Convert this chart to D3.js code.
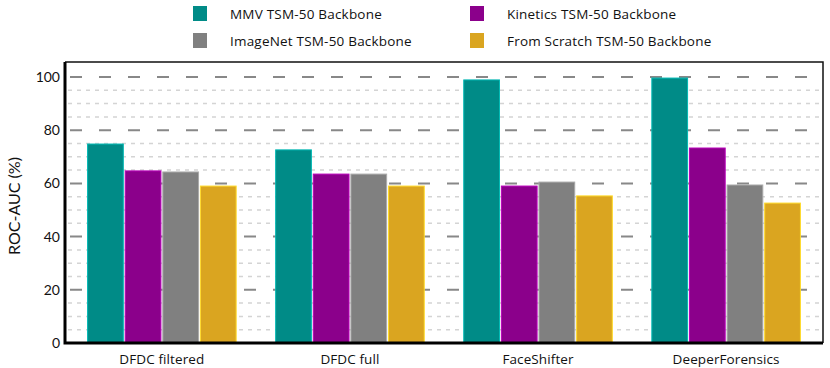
<!DOCTYPE html>
<html>
<head>
<meta charset="utf-8">
<script src="https://cdn.jsdelivr.net/npm/d3@7"></script>
<style>
  body { margin: 0; background: #fff; }
  text { font-family: Lato, "Open Sans", sans-serif; fill: #111; }
  .wide { font-family: "Open Sans", Lato, sans-serif; }
</style>
</head>
<body>
<div id="chart"></div>
<script>
let categories = ['DFDC filtered', 'DFDC full', 'FaceShifter', 'DeeperForensics'];
let series_names = ['MMV TSM-50 Backbone', 'Kinetics TSM-50 Backbone', 'ImageNet TSM-50 Backbone', 'From Scratch TSM-50 Backbone'];
let mmv      = [74.8, 72.6, 98.9, 99.6];
let kinetics = [64.7, 63.5, 59.0, 73.3];
let imagenet = [64.3, 63.5, 60.5, 59.4];
let scratch  = [59.0, 59.0, 55.3, 52.6];
let y_ticks  = [0, 20, 40, 60, 80, 100];
let minor_ticks = [5, 10, 15, 25, 30, 35, 45, 50, 55, 65, 70, 75, 85, 90, 95];
let colors   = ['#008b87', '#8b008b', '#808080', '#daa520'];

let series = [mmv, kinetics, imagenet, scratch];

let chart_width = 830;
let chart_height = 368;
let m = { left: 65, right: 823, top: 62, bottom: 343 };

let svg = d3.select('#chart')
    .append('svg')
    .attr('width', chart_width)
    .attr('height', chart_height);

let x_scale = d3.scaleBand()
    .domain(categories)
    .range([m.left, m.right])
    .paddingInner(0.21)
    .paddingOuter(0.12);

let x_inner = d3.scaleBand()
    .domain(d3.range(series.length))
    .range([0, x_scale.bandwidth()])
    .paddingInner(0.05);

let y_scale = d3.scaleLinear()
    .domain([0, 100])
    .range([m.bottom, 77]);

// gridlines
svg.selectAll('.minor')
    .data(minor_ticks)
    .enter()
    .append('line')
    .attr('x1', m.left + 3)
    .attr('x2', m.right - 3)
    .attr('y1', d => y_scale(d))
    .attr('y2', d => y_scale(d))
    .attr('stroke', '#d4d4d4')
    .attr('stroke-width', 1.5)
    .attr('stroke-dasharray', '4,5');

svg.selectAll('.major')
    .data(y_ticks.filter(d => d > 0))
    .enter()
    .append('line')
    .attr('x1', m.left + 5)
    .attr('x2', m.right - 3)
    .attr('y1', d => y_scale(d))
    .attr('y2', d => y_scale(d))
    .attr('stroke', '#888')
    .attr('stroke-width', 2)
    .attr('stroke-dasharray', '12,17');

// bars
series.forEach(function(vals, s) {
    svg.selectAll('.bar' + s)
        .data(vals)
        .enter()
        .append('rect')
        .attr('x', (d, i) => x_scale(categories[i]) + x_inner(s))
        .attr('y', d => y_scale(d))
        .attr('width', x_inner.bandwidth())
        .attr('height', d => m.bottom - y_scale(d))
        .attr('fill', colors[s])
        .attr('stroke', d3.color(colors[s]).brighter(0.8))
        .attr('stroke-width', 1);
});

// frame
svg.append('path')
    .attr('d', `M${m.left},${m.top}H${m.right}V${m.bottom}`)
    .attr('fill', 'none')
    .attr('stroke', '#111')
    .attr('stroke-width', 1.5);
svg.append('path')
    .attr('d', `M${m.left},${m.top}V${m.bottom}H${m.right}`)
    .attr('fill', 'none')
    .attr('stroke', '#000')
    .attr('stroke-width', 3);

// y axis labels
svg.selectAll('.ylab')
    .data(y_ticks)
    .enter()
    .append('text')
    .text(d => d)
    .attr('x', m.left - 5)
    .attr('y', d => y_scale(d) + 5)
    .attr('text-anchor', 'end')
    .attr('font-size', 14);

svg.append('text')
    .text('ROC-AUC (%)')
    .attr('transform', 'translate(20,206) rotate(-90)')
    .attr('text-anchor', 'middle')
    .attr('font-size', 16);

// x labels
svg.selectAll('.xlab')
    .data(categories)
    .enter()
    .append('text')
    .attr('class', 'wide')
    .text(d => d)
    .attr('x', d => x_scale(d) + x_scale.bandwidth() / 2)
    .attr('y', 364)
    .attr('text-anchor', 'middle')
    .attr('font-size', 13.5)
    .attr('letter-spacing', 0.1);

// legend
let leg_x = [193, 470];
let leg_y = [6, 33];
series_names.forEach(function(name, s) {
    let lx = leg_x[s % 2], ly = leg_y[Math.floor(s / 2)];
    svg.append('rect')
        .attr('x', lx).attr('y', ly)
        .attr('width', 14).attr('height', 15)
        .attr('fill', colors[s]);
    svg.append('text')
        .attr('class', 'wide')
        .text(name)
        .attr('x', lx + 37)
        .attr('y', ly + 13)
        .attr('font-size', 13.5)
        .attr('letter-spacing', 0.2);
});
</script>
</body>
</html>
